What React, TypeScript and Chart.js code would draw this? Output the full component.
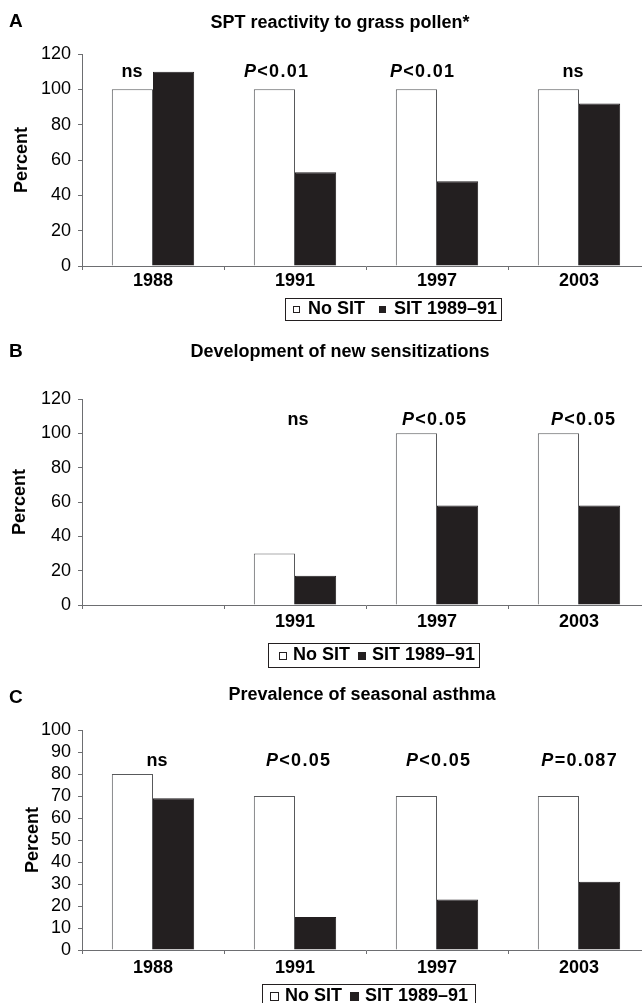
import { useEffect, useRef } from 'react';
import { Chart, registerables } from 'chart.js';

Chart.register(...registerables);

const FONT = "'Liberation Sans', Arial, Helvetica, sans-serif";
const INK = '#231f20';
const AXIS = '#6d6e71';

// ---------- data ----------
const seriesNames = ['No SIT', 'SIT 1989–91'];

const yearsA = ['1988', '1991', '1997', '2003'];
const noSitA = [100, 100, 100, 100];
const sitA = [110, 53, 48, 92];
const pLabelsA = ['ns', 'P<0.01', 'P<0.01', 'ns'];

const yearsB = ['', '1991', '1997', '2003'];
const noSitB = [null, 30, 100, 100];
const sitB = [null, 17, 58, 58];
const pLabelsB = ['', 'ns', 'P<0.05', 'P<0.05'];

const yearsC = ['1988', '1991', '1997', '2003'];
const noSitC = [80, 70, 70, 70];
const sitC = [69, 15, 23, 31];
const pLabelsC = ['ns', 'P<0.05', 'P<0.05', 'P=0.087'];

// ---------- layout ----------
type Panel = {
  letter: string; title: string; labels: string[];
  noSit: (number | null)[]; sit: (number | null)[]; pLabels: string[];
  yMax: number; yStep: number;
  top: number; height: number; padTop: number; padBottom: number;
  titleX: number; titleY: number; letterY: number;
  pY: number; pDx: number[]; yTitlePad: number; xTickPad: number;
  legend: { x: number; y: number; h: number; padL: number; m: number; gap: number; itemGap: number; padR: number };
};

const panels: Panel[] = [
  {
    letter: 'A', title: 'SPT reactivity to grass pollen*', labels: yearsA,
    noSit: noSitA, sit: sitA, pLabels: pLabelsA, yMax: 120, yStep: 20,
    top: 0, height: 330, padTop: 54, padBottom: 24,
    titleX: 340, titleY: 23, letterY: 22,
    pY: 110, pDx: [-21, -19, -15, -6], yTitlePad: 13.5, xTickPad: 2,
    legend: { x: 285, y: 298, h: 22, padL: 8, m: 7, gap: 8, itemGap: 14, padR: 4 },
  },
  {
    letter: 'B', title: 'Development of new sensitizations', labels: yearsB,
    noSit: noSitB, sit: sitB, pLabels: pLabelsB, yMax: 120, yStep: 20,
    top: 330, height: 342, padTop: 69, padBottom: 27,
    titleX: 340, titleY: 22, letterY: 22,
    pY: 108, pDx: [0, 3, -3, 4], yTitlePad: 11.5, xTickPad: 4,
    legend: { x: 268, y: 313, h: 24, padL: 11, m: 8, gap: 6, itemGap: 8, padR: 4 },
  },
  {
    letter: 'C', title: 'Prevalence of seasonal asthma', labels: yearsC,
    noSit: noSitC, sit: sitC, pLabels: pLabelsC, yMax: 100, yStep: 10,
    top: 672, height: 340, padTop: 58, padBottom: 22,
    titleX: 362, titleY: 23, letterY: 26,
    pY: 86, pDx: [4, 3, 1, 0], yTitlePad: 24, xTickPad: 5,
    legend: { x: 262, y: 312, h: 24, padL: 8, m: 9, gap: 6, itemGap: 8, padR: 7 },
  },
];

const CANVAS_W = 660;

function drawP(ctx: CanvasRenderingContext2D, text: string, cx: number, cy: number) {
  const size = 18;
  const isP = text.startsWith('P');
  const spacing = isP ? 1.3 : 0;
  const bold = `bold ${size}px ${FONT}`;
  const italic = `italic bold ${size}px ${FONT}`;
  const chars: { t: string; f: string }[] = [];
  for (let i = 0; i < text.length; i++) {
    chars.push({ t: text[i], f: isP && i === 0 ? italic : bold });
  }
  let total = 0;
  chars.forEach((c, i) => {
    ctx.font = c.f;
    total += ctx.measureText(c.t).width + (i < chars.length - 1 ? spacing : 0);
  });
  let x = cx - total / 2;
  ctx.textAlign = 'left';
  ctx.textBaseline = 'middle';
  ctx.fillStyle = '#000';
  for (const c of chars) {
    ctx.font = c.f;
    ctx.fillText(c.t, x, cy);
    x += ctx.measureText(c.t).width + spacing;
  }
}

function makeOverlay(panel: Panel) {
  return {
    id: 'overlay' + panel.letter,
    afterDraw(chart: any) {
      const ctx: CanvasRenderingContext2D = chart.ctx;
      ctx.save();
      // panel letter
      ctx.fillStyle = '#000';
      ctx.font = `bold 19px ${FONT}`;
      ctx.textAlign = 'left';
      ctx.textBaseline = 'middle';
      ctx.fillText(panel.letter, 9, panel.letterY);
      // title
      ctx.font = `bold 18px ${FONT}`;
      ctx.textAlign = 'center';
      ctx.fillText(panel.title, panel.titleX, panel.titleY);
      // significance labels
      const xs = chart.scales.x, ys = chart.scales.y;
      panel.pLabels.forEach((lab, i) => {
        if (!lab) return;
        drawP(ctx, lab, xs.getPixelForValue(i) + panel.pDx[i], ys.getPixelForValue(panel.pY));
      });
      // legend
      const L = panel.legend;
      ctx.font = `bold 18px ${FONT}`;
      const ds = chart.data.datasets;
      let w = L.padL;
      ds.forEach((d: any, i: number) => {
        w += L.m + L.gap + ctx.measureText(d.label).width;
        if (i < ds.length - 1) w += L.itemGap;
      });
      w += L.padR;
      ctx.strokeStyle = INK;
      ctx.lineWidth = 1;
      ctx.strokeRect(L.x + 0.5, L.y + 0.5, Math.round(w), L.h);
      let x = L.x + L.padL;
      const cy = L.y + L.h / 2 + 0.5;
      ds.forEach((d: any) => {
        ctx.fillStyle = d.backgroundColor;
        ctx.fillRect(x, Math.round(cy - L.m / 2), L.m, L.m);
        ctx.strokeStyle = INK;
        ctx.strokeRect(x + 0.5, Math.round(cy - L.m / 2) + 0.5, L.m - 1, L.m - 1);
        x += L.m + L.gap;
        ctx.fillStyle = '#000';
        ctx.textAlign = 'left';
        ctx.textBaseline = 'middle';
        ctx.fillText(d.label, x, cy);
        x += ctx.measureText(d.label).width + L.itemGap;
      });
      ctx.restore();
    },
  };
}

function PanelChart({ panel }: { panel: Panel }) {
  const ref = useRef<HTMLCanvasElement>(null);
  useEffect(() => {
    if (!ref.current) return;
    const chart = new Chart(ref.current, {
      type: 'bar',
      data: {
        labels: panel.labels,
        datasets: [
          {
            label: seriesNames[0], data: panel.noSit as any,
            backgroundColor: '#ffffff', borderColor: '#58595b', borderWidth: 1,
            categoryPercentage: 0.58, barPercentage: 1,
          },
          {
            label: seriesNames[1], data: panel.sit as any,
            backgroundColor: INK, borderColor: INK, borderWidth: 1,
            categoryPercentage: 0.58, barPercentage: 1,
          },
        ],
      },
      options: {
        responsive: false,
        animation: false,
        devicePixelRatio: 1,
        layout: { padding: { top: panel.padTop, bottom: panel.padBottom, left: 0, right: 10 } },
        plugins: { legend: { display: false }, title: { display: false }, tooltip: { enabled: false } },
        scales: {
          x: {
            afterFit: (s: any) => { s.height = 40; },
            grid: { offset: true, drawOnChartArea: false, drawTicks: true, tickLength: 4, color: AXIS },
            border: { color: AXIS },
            ticks: { color: '#000', padding: panel.xTickPad, font: { family: FONT, size: 18, weight: 'bold', lineHeight: 1 } },
          },
          y: {
            min: 0, max: panel.yMax,
            afterFit: (s: any) => { s.width = 82; },
            grid: { drawOnChartArea: false, drawTicks: true, tickLength: 4, color: AXIS },
            border: { color: AXIS },
            ticks: { stepSize: panel.yStep, color: '#000', padding: 7, font: { family: FONT, size: 18, lineHeight: 1 } },
            title: {
              display: true, text: 'Percent', color: '#000',
              padding: { top: panel.yTitlePad, bottom: 0 },
              font: { family: FONT, size: 18, weight: 'bold', lineHeight: 1 },
            },
          },
        },
      },
      plugins: [makeOverlay(panel)],
    });
    return () => chart.destroy();
  }, [panel]);
  return (
    <canvas
      ref={ref}
      width={CANVAS_W}
      height={panel.height}
      style={{ position: 'absolute', left: 0, top: panel.top, width: CANVAS_W, height: panel.height, display: 'block' }}
    />
  );
}

export default function App() {
  return (
    <div style={{ position: 'absolute', left: 0, top: 0, width: 642, height: 1003, overflow: 'hidden', background: '#fff' }}>
      {panels.map((p) => <PanelChart key={p.letter} panel={p} />)}
    </div>
  );
}
